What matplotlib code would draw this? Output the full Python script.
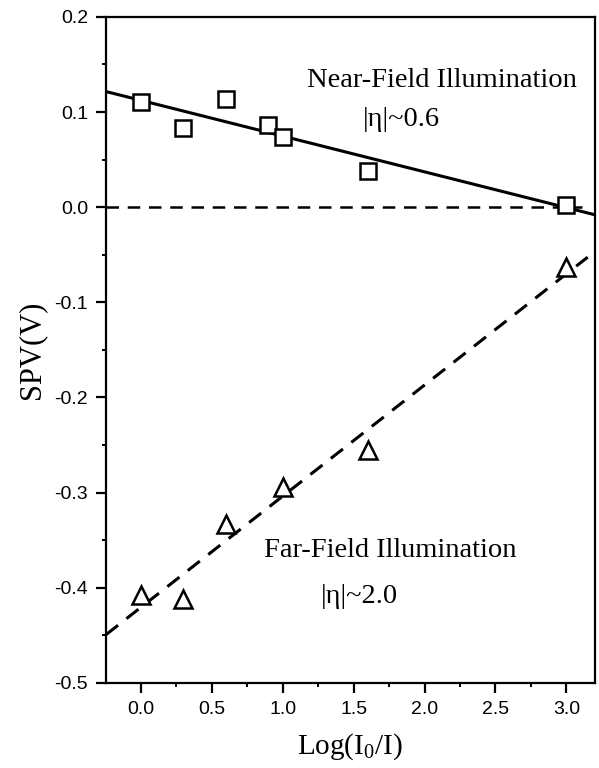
import numpy as np
import matplotlib

matplotlib.use("Agg")
import matplotlib.pyplot as plt
from matplotlib.ticker import MultipleLocator

# Near-field illumination (squares) and far-field illumination (triangles)
near_x = [0.0, 0.3, 0.6, 0.9, 1.0, 1.6, 3.0]
near_y = [0.111, 0.083, 0.114, 0.086, 0.074, 0.038, 0.002]
far_x = [0.0, 0.3, 0.6, 1.0, 1.6, 3.0]
far_y = [-0.408, -0.412, -0.333, -0.294, -0.255, -0.063]

# fitted lines (slope, intercept)
near_fit = (-0.0376, 0.1123)
far_fit = (0.1169, -0.4208)

_SERIF = ["Liberation Serif", "DejaVu Serif"]
_SANS = ["Liberation Sans", "DejaVu Sans"]
plt.rcParams["mathtext.fontset"] = "custom"
plt.rcParams["mathtext.rm"] = "Liberation Serif"

fig = plt.figure(figsize=(5.99, 7.68), dpi=100)
ax = fig.add_axes([0.177, 0.111, 0.816, 0.867])
xlim = (-0.245, 3.2)

xs = np.array([xlim[0], 3.5])
ax.plot(xs, near_fit[0] * xs + near_fit[1], color="black", lw=2.2)
xs = np.array([xlim[0], 3.15])
ax.plot(xs, far_fit[0] * xs + far_fit[1], color="black", lw=2.2,
        dashes=(5, 3.5))
ax.plot([xlim[0], 3.11], [0, 0], color="black", lw=1.8, dashes=(5, 3.5))

ax.plot(near_x, near_y, ls="none", marker="s", ms=11, mfc="white",
        mec="black", mew=1.8)
ax.plot(far_x, far_y, ls="none", marker="^", ms=13, mfc="white",
        mec="black", mew=1.8)

ax.text(2.12, 0.133, "Near-Field Illumination", ha="center", va="center",
        fontsize=20.5, family=_SERIF)
ax.text(1.84, 0.092, "|\u03b7|~0.6", ha="center", va="center",
        fontsize=20.5, family=_SERIF)
ax.text(1.76, -0.361, "Far-Field Illumination", ha="center", va="center",
        fontsize=20.5, family=_SERIF)
ax.text(1.54, -0.409, "|\u03b7|~2.0", ha="center", va="center",
        fontsize=20.5, family=_SERIF)

ax.set_xlim(*xlim)
ax.set_ylim(-0.5, 0.2)
ax.xaxis.set_major_locator(MultipleLocator(0.5))
ax.xaxis.set_minor_locator(MultipleLocator(0.25))
ax.yaxis.set_major_locator(MultipleLocator(0.1))
ax.yaxis.set_minor_locator(MultipleLocator(0.05))
ax.xaxis.set_major_formatter(lambda v, p: f"{v:.1f}")
ax.yaxis.set_major_formatter(lambda v, p: f"{v:.1f}")
ax.tick_params(which="major", direction="out", length=7, width=1.6,
               labelsize=14, pad=6)
ax.tick_params(which="minor", direction="out", length=3, width=1.4)
for lbl in ax.get_xticklabels() + ax.get_yticklabels():
    lbl.set_family(_SANS)
for sp in ax.spines.values():
    sp.set_linewidth(1.6)

ax.set_xlabel("Log(I$_\\mathrm{0}$/I)", fontsize=21, family=_SERIF, labelpad=10)
ax.set_ylabel("SPV(V)", fontsize=22, family=_SERIF, labelpad=6)

fig.savefig("out.png", dpi=100, facecolor="white")
